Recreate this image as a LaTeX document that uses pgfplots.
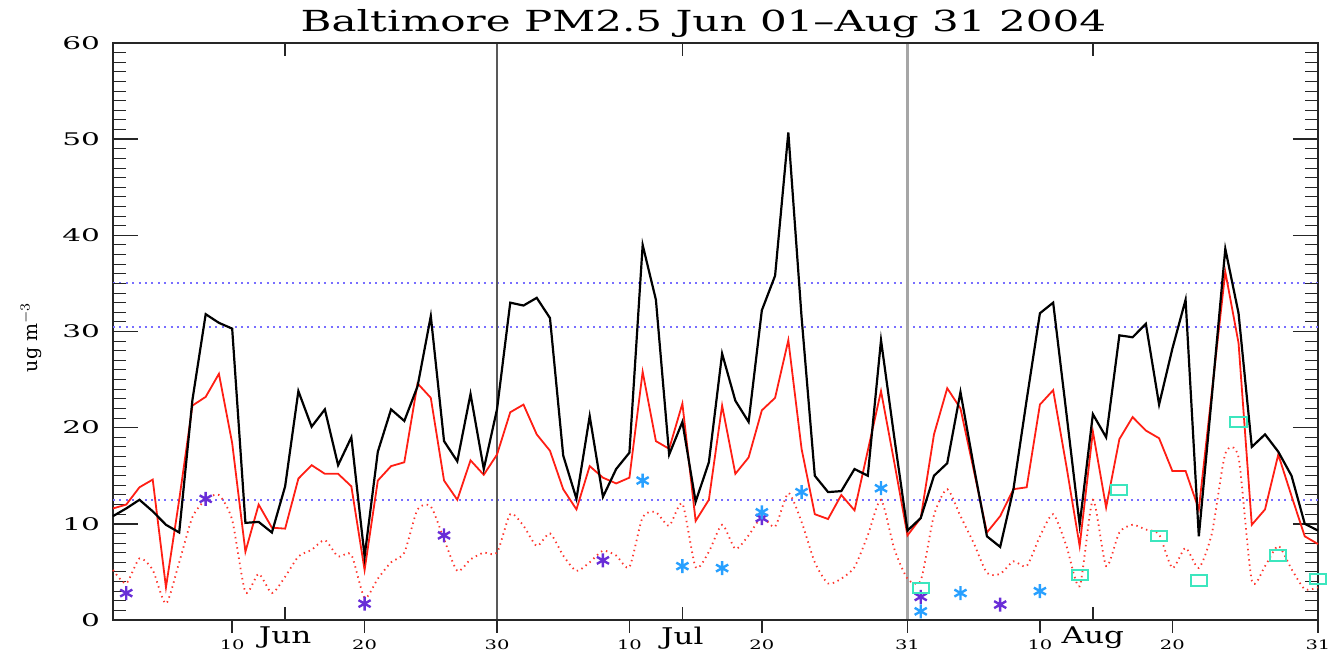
\documentclass[border=0pt]{standalone}
\usepackage{fontspec}
\setmainfont{DejaVu Serif}
\usepackage{graphicx}
\usepackage{pgfplots}
\pgfplotsset{compat=1.18}
\definecolor{pmpurple}{RGB}{105,45,215}
\definecolor{pmblue}{RGB}{40,160,255}
\definecolor{pmcyan}{RGB}{60,230,190}
\definecolor{pmline}{RGB}{120,110,255}
\definecolor{pmred}{RGB}{255,30,20}
\newcommand{\Wy}[1]{\scalebox{1.7}[1]{#1}}
\newcommand{\Wx}[1]{\scalebox{1.5}[1]{#1}}
\newcommand{\Wm}[1]{\scalebox{1.35}[1]{#1}}

\pgfplotstableread{
d black red dot
1 10.8 11.6 5.2
2 11.6 12.0 3.8
3 12.5 13.8 6.4
4 11.3 14.6 5.2
5 9.9 3.4 1.7
6 9.1 12.5 6.0
7 22.9 22.3 10.7
8 31.8 23.2 12.5
9 30.9 25.6 13.0
10 30.3 18.4 10.4
11 10.1 7.1 2.9
12 10.2 12.0 4.8
13 9.1 9.6 2.8
14 13.9 9.5 4.5
15 23.8 14.7 6.6
16 20.1 16.1 7.3
17 21.9 15.2 8.3
18 16.1 15.2 6.6
19 19.0 13.9 6.8
20 6.6 5.2 2.3
21 17.5 14.5 4.3
22 21.9 16.0 6.0
23 20.7 16.4 7.0
24 24.3 24.6 11.5
25 31.6 23.1 11.8
26 18.6 14.5 8.4
27 16.5 12.5 5.1
28 23.5 16.6 6.3
29 15.7 15.1 7.0
30 21.9 17.2 7.0
31 33.0 21.6 11.0
32 32.7 22.4 9.8
33 33.5 19.3 7.7
34 31.4 17.6 9.0
35 17.1 13.6 6.7
36 12.6 11.5 5.1
37 21.2 16.0 6.0
38 12.8 14.8 7.2
39 15.7 14.2 6.7
40 17.4 14.8 5.5
41 39.0 25.8 10.7
42 33.3 18.6 11.2
43 17.2 17.8 9.8
44 20.6 22.5 12.1
45 12.3 10.3 5.5
46 16.4 12.5 7.1
47 27.7 22.3 9.9
48 22.8 15.2 7.4
49 20.6 16.9 8.8
50 32.2 21.8 10.7
51 35.8 23.1 9.7
52 50.7 29.1 13.2
53 31.5 17.8 10.2
54 15.0 11.0 6.0
55 13.3 10.5 3.8
56 13.4 13.0 4.3
57 15.7 11.4 5.5
58 15.0 17.6 8.8
59 29.1 23.8 12.5
60 19.0 16.4 7.4
61 9.3 8.8 4.3
62 10.6 10.6 4.1
63 15.0 19.3 10.9
64 16.3 24.1 13.6
65 23.7 22.0 10.8
66 16.0 15.6 8.0
67 8.7 9.1 4.9
68 7.6 10.8 4.8
69 13.6 13.6 6.1
70 22.9 13.8 5.6
71 31.9 22.4 8.7
72 33.0 23.9 11.0
73 21.5 16.0 7.7
74 9.9 7.7 3.5
75 21.4 19.6 12.5
76 19.0 11.7 5.6
77 29.6 18.8 9.1
78 29.4 21.1 9.9
79 30.8 19.7 9.4
80 22.4 18.9 8.9
81 28.2 15.5 5.4
82 33.3 15.5 7.5
83 8.7 11.5 5.4
84 23.5 23.9 9.1
85 38.6 36.2 17.3
86 31.9 28.8 16.9
87 18.0 9.9 4.1
88 19.3 11.5 5.6
89 17.5 17.2 7.7
90 15.0 12.9 5.3
91 10.0 8.7 3.2
92 9.3 7.9 3.4
}\pmdata

\pgfplotsset{pmbase/.style={
  at={(0,0)}, anchor=south west,
  scale only axis, width=602.5pt, height=288.5pt,
  xmin=1, xmax=92, ymin=0, ymax=60,
  axis line style={line width=0.8pt, black!85},
}}

\begin{document}
\begin{tikzpicture}
\begin{axis}[
  pmbase,
  ytick={0,10,20,30,40,50,60},
  yticklabels={\Wy{0},\Wy{10},\Wy{20},\Wy{30},\Wy{40},\Wy{50},\Wy{60}},
  yticklabel style={font=\fontsize{8.7}{10}\selectfont, xshift=-3pt},
  ytick pos=left, yticklabel pos=left,
  ytick style={draw=none},
  xtick=\empty,
  clip=false,
]
\addplot [pmline, line width=1pt, dash pattern=on 1pt off 2.2pt] coordinates {(1,35) (92,35)};
\addplot [pmline, line width=1pt, dash pattern=on 1pt off 2.2pt] coordinates {(1,30.5) (92,30.5)};
\addplot [pmline, line width=1pt, dash pattern=on 1pt off 2.2pt] coordinates {(1,12.5) (92,12.5)};
\addplot [black!65, line width=0.6pt] coordinates {(30,0) (30,60)};
\addplot [black!35, line width=1.3pt] coordinates {(61,0) (61,60)};
\pgfplotsinvokeforeach{0,1,...,60}{
  \addplot [black!85, line width=0.5pt, forget plot] coordinates {(1,#1) (1.95,#1)};
  \addplot [black!85, line width=0.5pt, forget plot] coordinates {(91.05,#1) (92,#1)};
}
\pgfplotsinvokeforeach{0,10,...,60}{
  \addplot [black!85, line width=0.8pt, forget plot] coordinates {(1,#1) (2.89,#1)};
  \addplot [black!85, line width=0.8pt, forget plot] coordinates {(90.11,#1) (92,#1)};
}
\addplot [pmred!90, line width=0.9pt, dash pattern=on 0.7pt off 1.9pt, smooth, tension=0.4] table [x=d, y=dot] {\pmdata};
\addplot [pmred, line width=0.9pt] table [x=d, y=red] {\pmdata};
\addplot [black, line width=1.1pt] table [x=d, y=black] {\pmdata};
\addplot [only marks, mark=asterisk, mark size=3.5pt, pmpurple, mark options={line width=1.2pt}] coordinates {
(2,2.8) (8,12.6) (20,1.7) (26,8.8) (38,6.2) (50,10.6) (62,2.4) (68,1.6)};
\addplot [only marks, mark=asterisk, mark size=3.5pt, pmblue, mark options={line width=1.2pt}] coordinates {
(41,14.5) (44,5.6) (47,5.4) (50,11.2) (53,13.3) (59,13.7) (62,0.9) (65,2.8) (71,3.0)};
\addplot [only marks, mark=square, mark size=3pt, pmcyan, mark options={line width=1pt, xscale=1.35, yscale=0.85}] coordinates {
(62,3.3) (74,4.7) (77,13.5) (80,8.7) (83,4.1) (86,20.6) (89,6.7) (92,4.3)};
\node [font=\fontsize{14.5}{16}\selectfont] at (rel axis cs:0.49,1) [yshift=9.5pt] {\scalebox{1.45}[1]{Baltimore PM2.5 Jun 01--Aug 31 2004}};
\node [rotate=90, font=\fontsize{9.5}{11}\selectfont] at ([xshift=-41pt]rel axis cs:0,0.49) {ug m$^{-3}$};
\end{axis}
\begin{axis}[
  pmbase,
  hide y axis,
  tick align=outside, major tick length=6.5pt,
  tick style={line width=0.7pt, black!85},
  xtick={10,20,30,40,50,61,71,81,92},
  xticklabels={\Wx{10},\Wx{20},\Wx{30},\Wx{10},\Wx{20},\Wx{31},\Wx{10},\Wx{20},\Wx{31}},
  xtick pos=left,
  xticklabel style={font=\fontsize{6.5}{8}\selectfont},
]
\end{axis}
\begin{axis}[
  pmbase,
  hide y axis,
  tick align=inside, major tick length=6.5pt,
  tick style={line width=0.7pt, black!85},
  xtick={14,44,75},
  xticklabels={\Wm{Jun},\Wm{Jul},\Wm{Aug}},
  xtick pos=both, xticklabel pos=left,
  xticklabel style={font=\fontsize{11.5}{13}\selectfont},
]
\end{axis}
\pgfresetboundingbox
\path (-56.5pt,-18pt) rectangle (609.5pt,310pt);
\end{tikzpicture}
\end{document}
